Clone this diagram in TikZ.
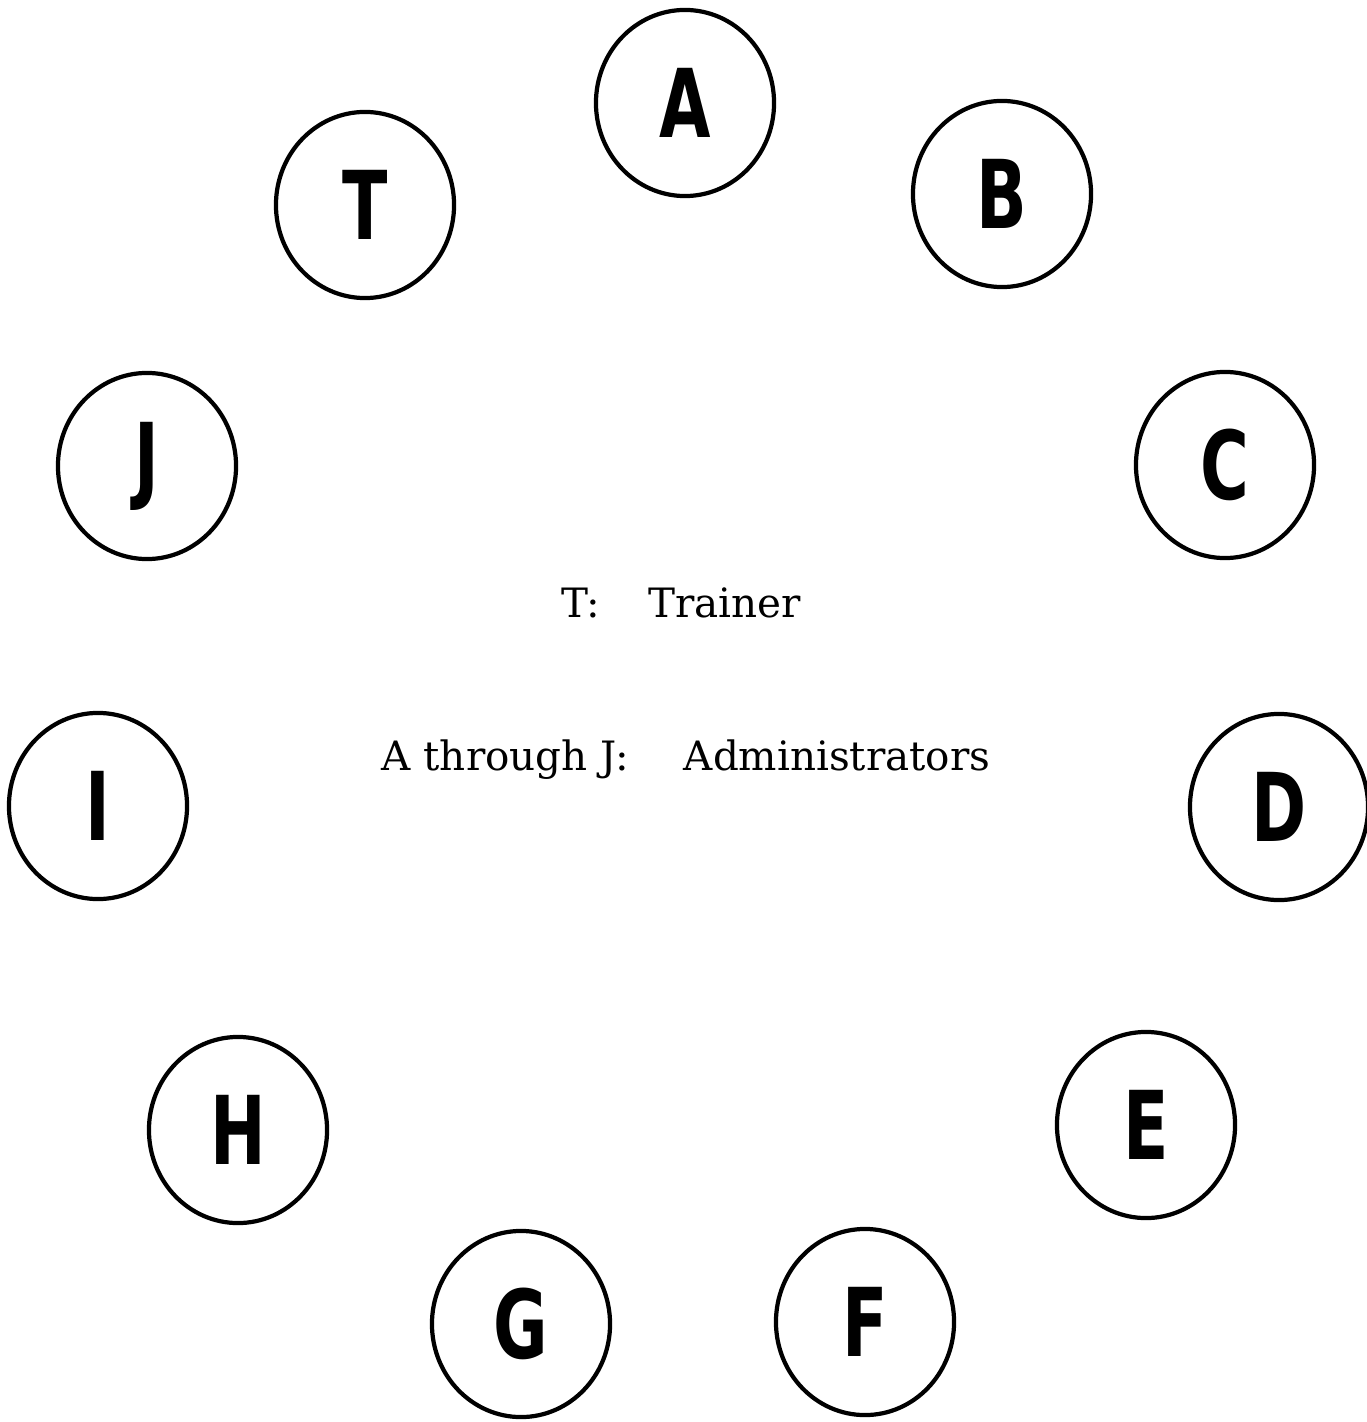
\documentclass[tikz,border=0pt]{standalone}
\usepackage{fontspec}
\usetikzlibrary{shapes.geometric}
\newfontfamily\seatfont[FakeStretch=0.7]{DejaVu Sans}
\newfontfamily\notefont{DejaVu Serif}

\begin{document}
\begin{tikzpicture}[x=0.01cm,y=-0.01cm,
		seat/.style={draw, ellipse, line width=1.2pt, inner sep=0pt,
			minimum width=1.78cm, minimum height=1.86cm,
			font=\seatfont\bfseries\fontsize{27}{30}\selectfont},
		note/.style={anchor=base, font=\notefont\fontsize{11.5}{13}\selectfont}]
		\useasboundingbox (0,0) rectangle (1366,1422);
	%% the table, clockwise from the top
		\node[seat] (A) at (685,103) {A};
		\node[seat] (B) at (1002,194) {B};
		\node[seat] (C) at (1225,465) {C};
		\node[seat] (D) at (1279,807) {D};
		\node[seat] (E) at (1146,1125) {E};
		\node[seat] (F) at (865,1322) {F};
		\node[seat] (G) at (521,1324) {G};
		\node[seat] (H) at (238,1130) {H};
		\node[seat] (I) at (98,806) {I};
		\node[seat] (J) at (147,466) {J};
		\node[seat] (T) at (365,205) {T};
	%% legend in the middle
		\node[note] (trainer) at (681,617) {T:\hspace{0.48cm}Trainer};
		\node[note] (admins) at (686,770) {A through J:\hspace{0.55cm}Administrators};
\end{tikzpicture}
\end{document}
